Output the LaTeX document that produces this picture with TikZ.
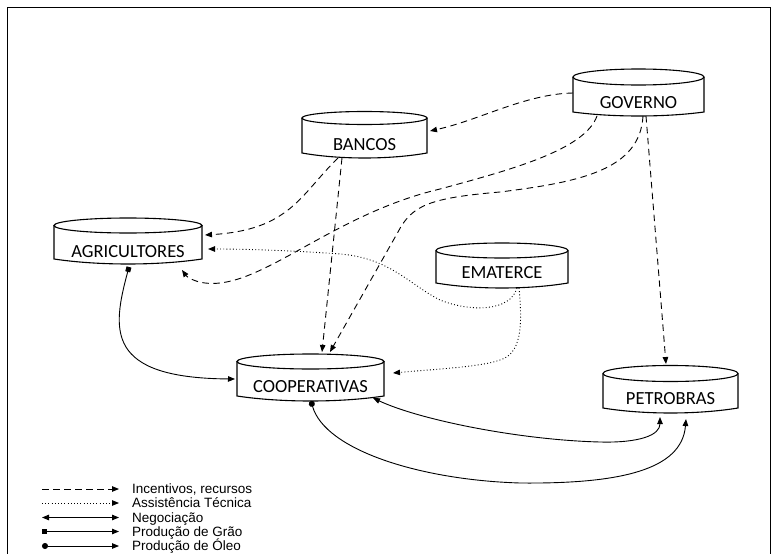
\documentclass[tikz,border=0pt]{standalone}
\usepackage{fontspec}
\setmainfont{Carlito}
\newfontfamily\legfont{Liberation Sans}
\usetikzlibrary{arrows.meta,calc}
\tikzset{
  diskline/.style={line width=1.1pt},
  disklabel/.style={font=\fontsize{18.5}{20}\selectfont, inner sep=0pt},
  conn/.style={line width=0.9pt},
  tipend/.tip={Triangle[length=7pt,width=5.5pt]},
  incent/.style={conn, dash pattern=on 6.5pt off 4.5pt, -tipend},
  assist/.style={conn, dash pattern=on 0.9pt off 2.3pt, -tipend},
  negoc/.style={conn, tipend-tipend},
  grao/.style={conn, {Square[length=5pt,width=5pt]}-tipend},
  oleo/.style={conn, {Circle[length=6pt]}-tipend},
  legtext/.style={font=\legfont\fontsize{13.5}{15}\selectfont, anchor=base west, inner sep=0pt},
}
% #1 name, #2 left, #3 right, #4 top ellipse y, #5 ry, #6 bottom side y, #7 bottom depth, #8 text y, #9 label
\newcommand\diskshape[9]{%
  \draw[diskline] (#2,#4) -- (#2,#6)
    .. controls ({#2+0.3*(#3-#2)},{#6+1.333*#7}) and ({#3-0.3*(#3-#2)},{#6+1.333*#7}) .. (#3,#6)
    -- (#3,#4);
  \draw[diskline] ({(#2+#3)/2},#4) ellipse [x radius={(#3-#2)/2}, y radius=#5];
  \node[disklabel] (#1-t) at ({(#2+#3)/2},#8) {#9};
  \node[inner sep=0pt, minimum width={(#3-#2)*1pt}, minimum height={(#6+#7-#4+#5)*1pt}]
    (#1) at ({(#2+#3)/2},{(#4-#5+#6+#7)/2}) {};
}
\begin{document}
\begin{tikzpicture}[x=1pt,y=-1pt]
\useasboundingbox (0,0) rectangle (777,554);
\draw[line width=1.1pt] (7.5,554) -- (7.5,7.5) -- (770.5,7.5) -- (770.5,554);

\diskshape{gov}{573}{704}{77}{8}{112}{4}{103}{GOVERNO}
\diskshape{ban}{302}{427}{118}{6.5}{153}{5}{145}{BANCOS}
\diskshape{agr}{54}{202}{225.5}{7.5}{259}{5}{252}{AGRICULTORES}
\diskshape{coop}{237}{384}{361.5}{7.5}{396}{5}{387}{COOPERATIVAS}
\diskshape{emat}{436}{568}{250.5}{7.5}{283}{5}{273}{EMATERCE}
\diskshape{pet}{603}{738}{373.5}{8}{408}{5}{399}{PETROBRAS}

% Incentivos, recursos
\draw[incent] ($(gov.center)+(-65.5,0.5)$) .. controls (525,94) and (480,120) .. ($(ban.center)+(65.5,-3.75)$);
\draw[incent] ($(ban.center)+(-26.5,23.25)$) .. controls (300,195) and (290,230) .. ($(agr.center)+(77,-6)$);
\draw[incent] ($(ban.center)+(-22.5,23.25)$) -- ($(coop.center)+(11.5,-25.5)$);
\draw[incent] ($(gov.center)+(-41.5,23.5)$) .. controls (585,150) and (510,170) .. (440,189)
  .. controls (330,215) and (260,290) .. (205,283) .. controls (195,282) and (187,277) .. ($(agr.center)+(54,29)$);
\draw[incent] ($(gov.center)+(4.5,23.5)$) .. controls (640,170) and (580,182) .. (500,192)
  .. controls (430,198) and (412,205) .. (398,232) -- ($(coop.center)+(19.5,-25.5)$);
\draw[incent] ($(gov.center)+(7.5,23.5)$) -- ($(pet.center)+(-4.5,-25.25)$);

% Assistencia tecnica
\draw[assist] ($(emat.center)+(15,22.5)$) .. controls (510,312) and (470,312) .. (440,300)
  .. controls (410,285) and (390,258) .. (340,254) .. controls (300,251) and (250,249) .. ($(agr.center)+(80,8)$);
\draw[assist] ($(emat.center)+(17,22.5)$) .. controls (522,320) and (522,345) .. (508,356)
  .. controls (495,366) and (450,368) .. ($(coop.center)+(82.5,-4.5)$);

% Producao de grao
\draw[grao] ($(agr.center)+(1,26)$) .. controls (112,330) and (105,378) .. ($(coop.center)+(-75.5,1.5)$);
% Producao de oleo
\draw[oleo] ($(coop.center)+(0.5,23.5)$) .. controls (325,450) and (420,480) .. (520,483)
  .. controls (620,484) and (682,470) .. ($(pet.center)+(15.5,29.75)$);
% Negociacao
\draw[negoc] ($(coop.center)+(62.5,20.5)$) .. controls (420,420) and (520,440) .. (600,442)
  .. controls (640,443) and (660,435) .. ($(pet.center)+(-10.5,27.75)$);

% Legend
\foreach \i/\y in {1/489,2/503,3/517.5,4/531.5,5/546}{
  \coordinate (ls\i) at (42,\y);
}
\node[legtext] (lt1) at (132,493.8) {Incentivos, recursos};
\node[legtext] (lt2) at (132,507.8) {Assistência Técnica};
\node[legtext] (lt3) at (132,522.3) {Negociação};
\node[legtext] (lt4) at (132,536.3) {Produção de Grão};
\node[legtext] (lt5) at (132,550.8) {Produção de Óleo};
\draw[incent] (ls1) -- ($(lt1.base west)+(-13,-4.8)$);
\draw[assist] (ls2) -- ($(lt2.base west)+(-13,-4.8)$);
\draw[negoc] (ls3) -- ($(lt3.base west)+(-13,-4.8)$);
\draw[grao] (ls4) -- ($(lt4.base west)+(-13,-4.8)$);
\draw[oleo] (ls5) -- ($(lt5.base west)+(-13,-4.8)$);
\end{tikzpicture}
\end{document}
